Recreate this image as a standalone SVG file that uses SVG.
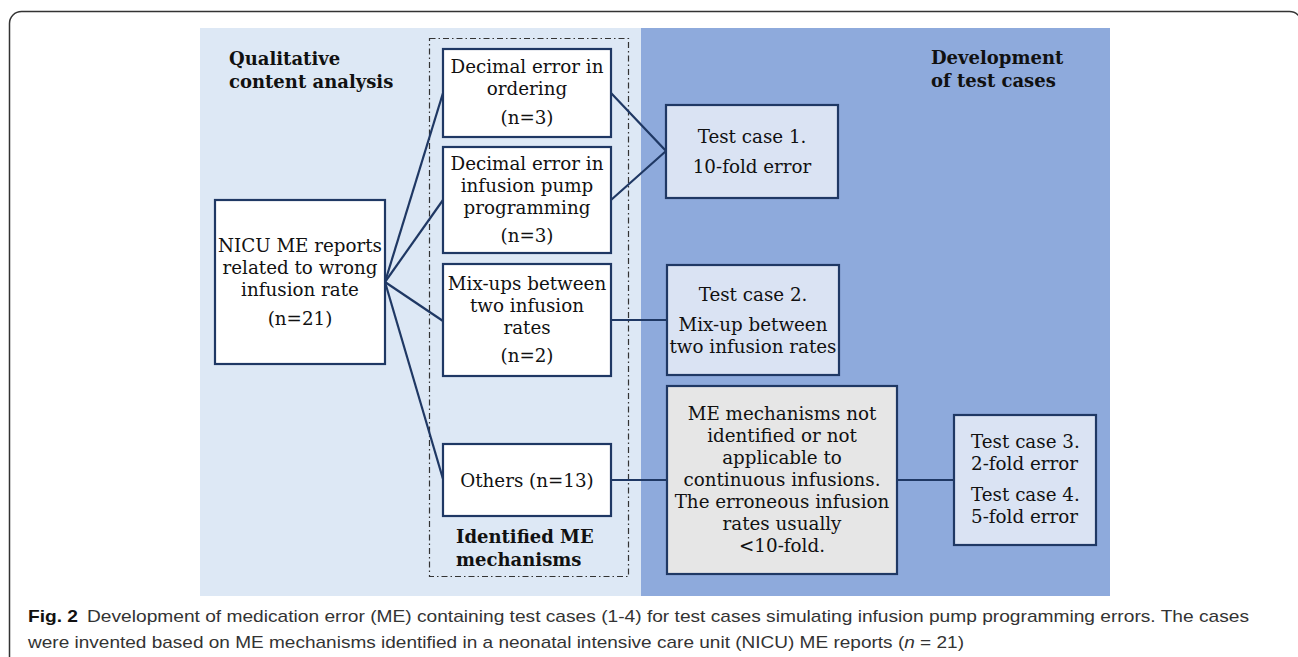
<svg xmlns="http://www.w3.org/2000/svg" width="1298" height="657" viewBox="0 0 1298 657">
<style>
.box{fill:#ffffff;stroke:#1f3864;stroke-width:2.2}
.tc{fill:#dae3f3;stroke:#1f3864;stroke-width:2.2}
.gray{fill:#e6e6e6;stroke:#1f3864;stroke-width:2.2}
.t{font-family:"DejaVu Serif","Liberation Serif",serif;font-size:18.3px;fill:#111;text-anchor:middle}
.tl{font-family:"DejaVu Serif","Liberation Serif",serif;font-size:18.3px;fill:#111}
.h{font-family:"DejaVu Serif","Liberation Serif",serif;font-size:18px;font-weight:bold;fill:#111}
.cap{font-family:"Liberation Sans",Arial,sans-serif;font-size:17px;fill:#333}
.conn line,.conn polyline{stroke:#1f3864;stroke-width:2.2;fill:none}
</style>
<rect x="9.5" y="11.5" width="1292" height="700" rx="12" fill="#ffffff" stroke="#333" stroke-width="1.5"/>
<g id="panels">
<rect x="200" y="28" width="441" height="568" fill="#dde8f5"/>
<rect x="641" y="28" width="469" height="568" fill="#8eaadc"/>
<rect x="429.5" y="38.5" width="199" height="538" fill="none" stroke="#333" stroke-width="1.2" stroke-dasharray="6 3 1.5 3"/>
</g>
<g id="headings">
<text class="h" x="229" y="65">Qualitative</text>
<text class="h" x="229" y="88">content analysis</text>
<text class="h" x="931" y="64">Development</text>
<text class="h" x="931" y="87">of test cases</text>
<text class="h" x="456" y="543" font-size="17.3">Identified ME</text>
<text class="h" x="456" y="566" font-size="17.3">mechanisms</text>
</g>
<g class="conn" id="connectors">
<line x1="385" y1="282" x2="443" y2="93"/>
<line x1="385" y1="282" x2="443" y2="200"/>
<line x1="385" y1="282" x2="443" y2="321"/>
<line x1="385" y1="282" x2="443" y2="479"/>
<polyline points="611,93 666,151 611,200"/>
<line x1="611" y1="320" x2="667" y2="320"/>
<line x1="611" y1="480" x2="666" y2="480"/>
<line x1="897" y1="480" x2="954" y2="480"/>
</g>
<g id="nicu">
<rect class="box" x="215" y="200" width="170" height="164"/>
<text class="t" x="300" y="252">NICU ME reports</text>
<text class="t" x="300" y="274">related to wrong</text>
<text class="t" x="300" y="296">infusion rate</text>
<text class="t" x="300" y="325">(n=21)</text>
</g>
<g id="ordering">
<rect class="box" x="443" y="49" width="168" height="88"/>
<text class="t" x="527" y="73">Decimal error in</text>
<text class="t" x="527" y="95">ordering</text>
<text class="t" x="527" y="124">(n=3)</text>
</g>
<g id="pump">
<rect class="box" x="443" y="147" width="168" height="106"/>
<text class="t" x="527" y="170">Decimal error in</text>
<text class="t" x="527" y="192">infusion pump</text>
<text class="t" x="527" y="214">programming</text>
<text class="t" x="527" y="242">(n=3)</text>
</g>
<g id="mixups">
<rect class="box" x="443" y="264" width="168" height="112"/>
<text class="t" x="527" y="290">Mix-ups between</text>
<text class="t" x="527" y="312">two infusion</text>
<text class="t" x="527" y="334">rates</text>
<text class="t" x="527" y="362">(n=2)</text>
</g>
<g id="others">
<rect class="box" x="443" y="444" width="168" height="72"/>
<text class="t" x="527" y="487">Others (n=13)</text>
</g>
<g id="tc1">
<rect class="tc" x="666" y="105" width="172" height="93"/>
<text class="t" x="752" y="143">Test case 1.</text>
<text class="t" x="752" y="173">10-fold error</text>
</g>
<g id="tc2">
<rect class="tc" x="667" y="265" width="172" height="110"/>
<text class="t" x="753" y="301">Test case 2.</text>
<text class="t" x="753" y="331">Mix-up between</text>
<text class="t" x="753" y="353">two infusion rates</text>
</g>
<g id="notidentified">
<rect class="gray" x="667" y="386" width="230" height="188"/>
<text class="t" x="782" y="420">ME mechanisms not</text>
<text class="t" x="782" y="442">identified or not</text>
<text class="t" x="782" y="464">applicable to</text>
<text class="t" x="782" y="486">continuous infusions.</text>
<text class="t" x="782" y="508">The erroneous infusion</text>
<text class="t" x="782" y="530">rates usually</text>
<text class="t" x="782" y="552">&lt;10-fold.</text>
</g>
<g id="tc34">
<rect class="tc" x="954" y="415" width="142" height="130"/>
<text class="tl" x="971" y="448">Test case 3.</text>
<text class="tl" x="971" y="470">2-fold error</text>
<text class="tl" x="971" y="501">Test case 4.</text>
<text class="tl" x="971" y="523">5-fold error</text>
</g>
<g id="caption">
<text class="cap" x="28" y="622" textLength="1221" lengthAdjust="spacingAndGlyphs"><tspan font-weight="bold" fill="#111">Fig. 2</tspan><tspan dx="8">Development of medication error (ME) containing test cases (1-4) for test cases simulating infusion pump programming errors. The cases</tspan></text>
<text class="cap" x="28" y="648" textLength="936" lengthAdjust="spacingAndGlyphs">were invented based on ME mechanisms identified in a neonatal intensive care unit (NICU) ME reports (<tspan font-style="italic">n</tspan> = 21)</text>
</g>
</svg>
